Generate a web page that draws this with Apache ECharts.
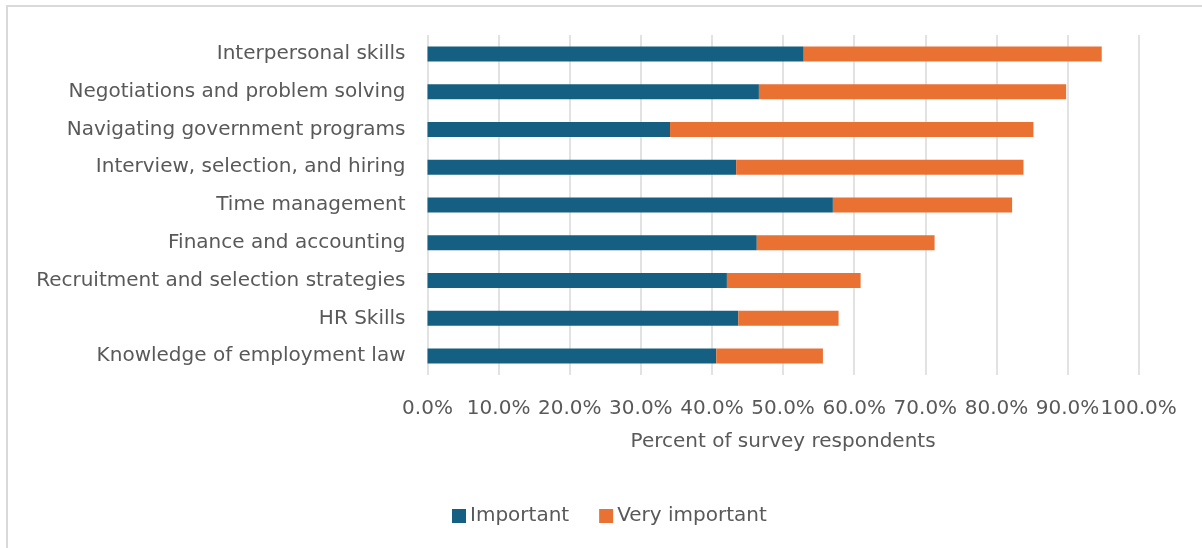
<!DOCTYPE html>
<html>
<head>
<meta charset="utf-8">
<script src="https://cdn.jsdelivr.net/npm/echarts@6/dist/echarts.min.js"></script>
<style>
  html, body { margin: 0; padding: 0; background: #fff; }
  #chart { width: 1202px; height: 548px; }
</style>
</head>
<body>
<div id="chart"></div>
<script>
// Skills, listed bottom to top as drawn on the category axis
const skills = [
  'Knowledge of employment law',
  'HR Skills',
  'Recruitment and selection strategies',
  'Finance and accounting',
  'Time management',
  'Interview, selection, and hiring',
  'Navigating government programs',
  'Negotiations and problem solving',
  'Interpersonal skills'
];
// Share of respondents (%) per rating
const important     = [40.6, 43.7, 42.1, 46.3, 57.0, 43.4, 34.1, 46.6, 52.9];
const veryImportant = [15.0, 14.1, 18.8, 25.0, 25.2, 40.4, 51.1, 43.2, 41.9];
const seriesNames = ['Important', 'Very important'];

const FONT = '"DejaVu Sans", "Open Sans", sans-serif';
const TEXT = '#595959';

const chart = echarts.init(document.getElementById('chart'), null, { renderer: 'canvas' });
chart.setOption({
  animation: false,
  backgroundColor: '#fff',
  textStyle: { fontFamily: FONT, color: TEXT },
  graphic: [{
    // chart-area frame; only its top and left edges fall inside the canvas
    type: 'rect',
    shape: { x: 7, y: 6, width: 1400, height: 700 },
    style: { fill: 'none', stroke: '#d9d9d9', lineWidth: 2 },
    silent: true
  }],
  grid: { left: 427.5, right: 63.3, top: 35, bottom: 173, containLabel: false },
  legend: {
    data: seriesNames,
    left: 447,
    top: 501,
    itemWidth: 14,
    itemHeight: 14,
    itemGap: 30,
    icon: 'rect',
    textStyle: { fontFamily: FONT, fontSize: 20, color: TEXT, padding: [0, 0, 0, -1] }
  },
  xAxis: {
    type: 'value',
    min: 0,
    max: 100,
    interval: 10,
    name: 'Percent of survey respondents',
    nameLocation: 'middle',
    nameGap: 57,
    nameTextStyle: { fontFamily: FONT, fontSize: 20, color: TEXT },
    axisLine: { show: false },
    axisTick: { show: false },
    axisLabel: {
      formatter: v => v.toFixed(1) + '%',
      fontFamily: FONT, fontSize: 20, color: TEXT, margin: 24
    },
    splitLine: { show: true, lineStyle: { color: '#d9d9d9', width: 1.5 } }
  },
  yAxis: {
    type: 'category',
    data: skills,
    axisLine: { show: false },
    axisTick: { show: false },
    axisLabel: { fontFamily: FONT, fontSize: 20, color: TEXT, margin: 22 }
  },
  series: [
    {
      name: seriesNames[0], type: 'bar', stack: 'total',
      data: important, barWidth: 15,
      itemStyle: { color: '#156082' }
    },
    {
      name: seriesNames[1], type: 'bar', stack: 'total',
      data: veryImportant, barWidth: 15,
      itemStyle: { color: '#E97132' }
    }
  ]
});
</script>
</body>
</html>
